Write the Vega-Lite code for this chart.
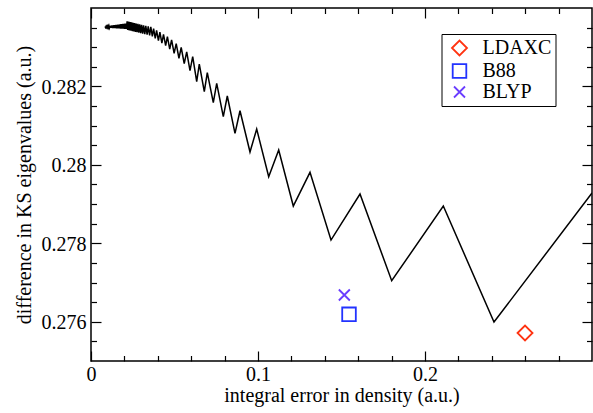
{
"$schema": "https://vega.github.io/schema/vega-lite/v6.json",
"width": 501, "height": 353,
"autosize": {"type": "none"},
"padding": {"left": 91, "top": 8, "right": 1, "bottom": 52},
"background": "white",
"config": {"font": "Liberation Serif", "view": {"stroke": "black", "strokeWidth": 1.5}},
"datasets": {
"curve": [
{"x":0.00838,"y":0.283528},{"x":0.00868,"y":0.283503},
{"x":0.00898,"y":0.283532},{"x":0.00928,"y":0.283501},
{"x":0.00958,"y":0.283535},{"x":0.00988,"y":0.283499},
{"x":0.01018,"y":0.283539},{"x":0.01048,"y":0.283497},
{"x":0.01078,"y":0.283543},{"x":0.01108,"y":0.283496},
{"x":0.01138,"y":0.283546},{"x":0.01168,"y":0.283494},
{"x":0.01198,"y":0.283550},{"x":0.01228,"y":0.283492},
{"x":0.01257,"y":0.283554},{"x":0.01287,"y":0.283490},
{"x":0.01317,"y":0.283557},{"x":0.01347,"y":0.283488},
{"x":0.01377,"y":0.283561},{"x":0.01407,"y":0.283486},
{"x":0.01437,"y":0.283565},{"x":0.01467,"y":0.283484},
{"x":0.01497,"y":0.283569},{"x":0.01527,"y":0.283483},
{"x":0.01557,"y":0.283572},{"x":0.01587,"y":0.283481},
{"x":0.01617,"y":0.283576},{"x":0.01647,"y":0.283479},
{"x":0.01677,"y":0.283580},{"x":0.01707,"y":0.283477},
{"x":0.01737,"y":0.283583},{"x":0.01766,"y":0.283475},
{"x":0.01796,"y":0.283587},{"x":0.01826,"y":0.283473},
{"x":0.01856,"y":0.283591},{"x":0.01886,"y":0.283471},
{"x":0.01916,"y":0.283594},{"x":0.01946,"y":0.283470},
{"x":0.01976,"y":0.283598},{"x":0.02006,"y":0.283468},
{"x":0.02036,"y":0.283602},{"x":0.02066,"y":0.283466},
{"x":0.02096,"y":0.283605},{"x":0.02126,"y":0.283464},
{"x":0.021617,"y":0.283660},{"x":0.021946,"y":0.283441},
{"x":0.022215,"y":0.283654},{"x":0.022575,"y":0.283435},
{"x":0.022874,"y":0.283648},{"x":0.023269,"y":0.283427},
{"x":0.023593,"y":0.283640},{"x":0.024024,"y":0.283420},
{"x":0.024371,"y":0.283633},{"x":0.024832,"y":0.283411},
{"x":0.025209,"y":0.283624},{"x":0.025706,"y":0.283402},
{"x":0.026108,"y":0.283615},{"x":0.026635,"y":0.283392},
{"x":0.027066,"y":0.283605},{"x":0.027629,"y":0.283382},
{"x":0.028084,"y":0.283595},{"x":0.028677,"y":0.283371},
{"x":0.029162,"y":0.283584},{"x":0.029791,"y":0.283359},
{"x":0.030299,"y":0.283572},{"x":0.030958,"y":0.283347},
{"x":0.031497,"y":0.283560},{"x":0.032221,"y":0.283334},
{"x":0.032814,"y":0.283547},{"x":0.033605,"y":0.283320},
{"x":0.034251,"y":0.283532},{"x":0.035108,"y":0.283304},
{"x":0.035808,"y":0.283517},{"x":0.036730,"y":0.283275},
{"x":0.037485,"y":0.283476},{"x":0.038473,"y":0.283224},
{"x":0.039281,"y":0.283432},{"x":0.040371,"y":0.283167},
{"x":0.041257,"y":0.283382},{"x":0.042443,"y":0.283106},
{"x":0.043413,"y":0.283328},{"x":0.044701,"y":0.283039},
{"x":0.045748,"y":0.283270},{"x":0.047132,"y":0.282954},
{"x":0.048263,"y":0.283188},{"x":0.049778,"y":0.282842},
{"x":0.051018,"y":0.283094},{"x":0.052664,"y":0.282719},
{"x":0.054012,"y":0.282993},{"x":0.055826,"y":0.282584},
{"x":0.057305,"y":0.282881},{"x":0.059281,"y":0.282402},
{"x":0.060898,"y":0.282758},{"x":0.063293,"y":0.282121},
{"x":0.064850,"y":0.282572},{"x":0.067844,"y":0.281866},
{"x":0.069640,"y":0.282350},{"x":0.073233,"y":0.281585},
{"x":0.075269,"y":0.282080},{"x":0.079221,"y":0.281228},
{"x":0.081616,"y":0.281756},{"x":0.086227,"y":0.280805},
{"x":0.089221,"y":0.281381},{"x":0.095209,"y":0.280328},
{"x":0.099221,"y":0.280915},{"x":0.106407,"y":0.279698},
{"x":0.112395,"y":0.280379},{"x":0.121137,"y":0.278951},
{"x":0.131138,"y":0.279810},{"x":0.143713,"y":0.278084},
{"x":0.161078,"y":0.279257},{"x":0.180060,"y":0.277046},
{"x":0.210962,"y":0.278951},{"x":0.241317,"y":0.275993},
{"x":0.3,"y":0.279283}
],
"pts": [
{"method":"LDAXC","x":0.2599,"y":0.275714},
{"method":"B88","x":0.1545,"y":0.27619},
{"method":"BLYP","x":0.1517,"y":0.276683}
]
},
"resolve": {"axis": {"x": "independent", "y": "independent"}},
"layer": [
{
"data": {"name": "curve"},
"mark": {"type": "line", "color": "black", "strokeWidth": 1.5, "clip": true},
"encoding": {
"x": {"field": "x", "type": "quantitative", "scale": {"domain": [0, 0.3], "nice": false, "zero": false},
"axis": {"orient": "bottom", "values": [0, 0.1, 0.2], "format": "~g", "ticks": false, "domain": false, "grid": false,
"labelPadding": 19.5, "labelBaseline": "alphabetic", "labelFont": "Times New Roman", "labelFontSize": 20, "labelColor": "black", "labelFlush": false,
"title": "integral error in density (a.u.)", "titleFont": "Liberation Serif", "titleFontSize": 20, "titleFontWeight": "normal", "titleColor": "black",
"titleX": 250.5, "titleY": 40.5, "titleBaseline": "alphabetic", "titleAlign": "center"}},
"y": {"field": "y", "type": "quantitative", "scale": {"domain": [0.275, 0.284], "nice": false, "zero": false},
"axis": {"orient": "left", "values": [0.276, 0.278, 0.28, 0.282], "format": "~g", "ticks": false, "domain": false, "grid": false,
"labelPadding": 5, "labelBaseline": "alphabetic", "labelOffset": 7, "labelFont": "Times New Roman", "labelFontSize": 20, "labelColor": "black", "labelFlush": false,
"title": "difference in KS eigenvalues (a.u.)", "titleFont": "Liberation Serif", "titleFontSize": 20, "titleFontWeight": "normal", "titleColor": "black",
"titleX": -61, "titleY": 176.5, "titleBaseline": "alphabetic", "titleAlign": "center", "titleAngle": 270}}
}
},
{
"data": {"name": "pts"},
"mark": {"type": "point", "filled": false, "strokeWidth": 1.8, "opacity": 1},
"encoding": {
"x": {"field": "x", "type": "quantitative", "scale": {"domain": [0, 0.3], "nice": false, "zero": false},
"axis": {"orient": "bottom", "labels": false, "domain": false, "grid": false, "title": null,
"values": [0, 0.02, 0.04, 0.06, 0.08, 0.1, 0.12, 0.14, 0.16, 0.18, 0.2, 0.22, 0.24, 0.26, 0.28],
"tickColor": "black", "tickWidth": 1.2,
"tickSize": {"condition": {"test": "datum.value == 0 || datum.value == 0.1 || datum.value == 0.2", "value": -10}, "value": -5.5}}},
"y": {"field": "y", "type": "quantitative", "scale": {"domain": [0.275, 0.284], "nice": false, "zero": false},
"axis": {"orient": "left", "labels": false, "domain": false, "grid": false, "title": null,
"values": [0.2755, 0.276, 0.2765, 0.277, 0.2775, 0.278, 0.2785, 0.279, 0.2795, 0.28, 0.2805, 0.281, 0.2815, 0.282, 0.2825, 0.283, 0.2835],
"tickColor": "black", "tickWidth": 1.2,
"tickSize": {"condition": {"test": "datum.value == 0.276 || datum.value == 0.278 || datum.value == 0.28 || datum.value == 0.282", "value": -10}, "value": -5.5}}},
"color": {"field": "method", "type": "nominal",
"scale": {"domain": ["LDAXC", "B88", "BLYP"], "range": ["#ff3311", "#2233ff", "#6a3dff"]},
"legend": {"orient": "none", "legendX": 350.5, "legendY": 26, "title": null, "padding": 4, "strokeColor": "black", "fillColor": "white",
"labelFont": "Times New Roman", "labelFontSize": 20, "labelColor": "black", "labelOffset": 13, "symbolOffset": 4, "rowPadding": 0, "symbolStrokeWidth": 1.8,
"encode": {"legend": {"update": {"strokeWidth": {"value": 1.5}}}}}},
"shape": {"field": "method", "type": "nominal",
"scale": {"domain": ["LDAXC", "B88", "BLYP"], "range": ["diamond", "square", "M-1,-1L1,1M-1,1L1,-1"]},
"legend": {"orient": "none", "legendX": 350.5, "legendY": 26, "title": null, "padding": 4, "strokeColor": "black", "fillColor": "white",
"labelFont": "Times New Roman", "labelFontSize": 20, "labelColor": "black", "labelOffset": 13, "symbolOffset": 4, "rowPadding": 0, "symbolStrokeWidth": 1.8}},
"size": {"field": "method", "type": "nominal",
"scale": {"type": "ordinal", "domain": ["LDAXC", "B88", "BLYP"], "range": [225, 185, 121]},
"legend": {"orient": "none", "legendX": 350.5, "legendY": 26, "title": null, "padding": 4, "strokeColor": "black", "fillColor": "white",
"labelFont": "Times New Roman", "labelFontSize": 20, "labelColor": "black", "labelOffset": 13, "symbolOffset": 4, "rowPadding": 0, "symbolStrokeWidth": 1.8}}
}
},
{
"data": {"name": "pts"},
"mark": {"type": "point", "opacity": 0},
"encoding": {
"x": {"field": "x", "type": "quantitative", "scale": {"domain": [0, 0.3], "nice": false, "zero": false},
"axis": {"orient": "top", "labels": false, "domain": false, "grid": false, "title": null,
"values": [0, 0.02, 0.04, 0.06, 0.08, 0.1, 0.12, 0.14, 0.16, 0.18, 0.2, 0.22, 0.24, 0.26, 0.28],
"tickColor": "black", "tickWidth": 1.2,
"tickSize": {"condition": {"test": "datum.value == 0 || datum.value == 0.1 || datum.value == 0.2", "value": -10}, "value": -5.5}}},
"y": {"field": "y", "type": "quantitative", "scale": {"domain": [0.275, 0.284], "nice": false, "zero": false},
"axis": {"orient": "right", "labels": false, "domain": false, "grid": false, "title": null,
"values": [0.2755, 0.276, 0.2765, 0.277, 0.2775, 0.278, 0.2785, 0.279, 0.2795, 0.28, 0.2805, 0.281, 0.2815, 0.282, 0.2825, 0.283, 0.2835],
"tickColor": "black", "tickWidth": 1.2,
"tickSize": {"condition": {"test": "datum.value == 0.276 || datum.value == 0.278 || datum.value == 0.28 || datum.value == 0.282", "value": -10}, "value": -5.5}}}
}
}
]
}
